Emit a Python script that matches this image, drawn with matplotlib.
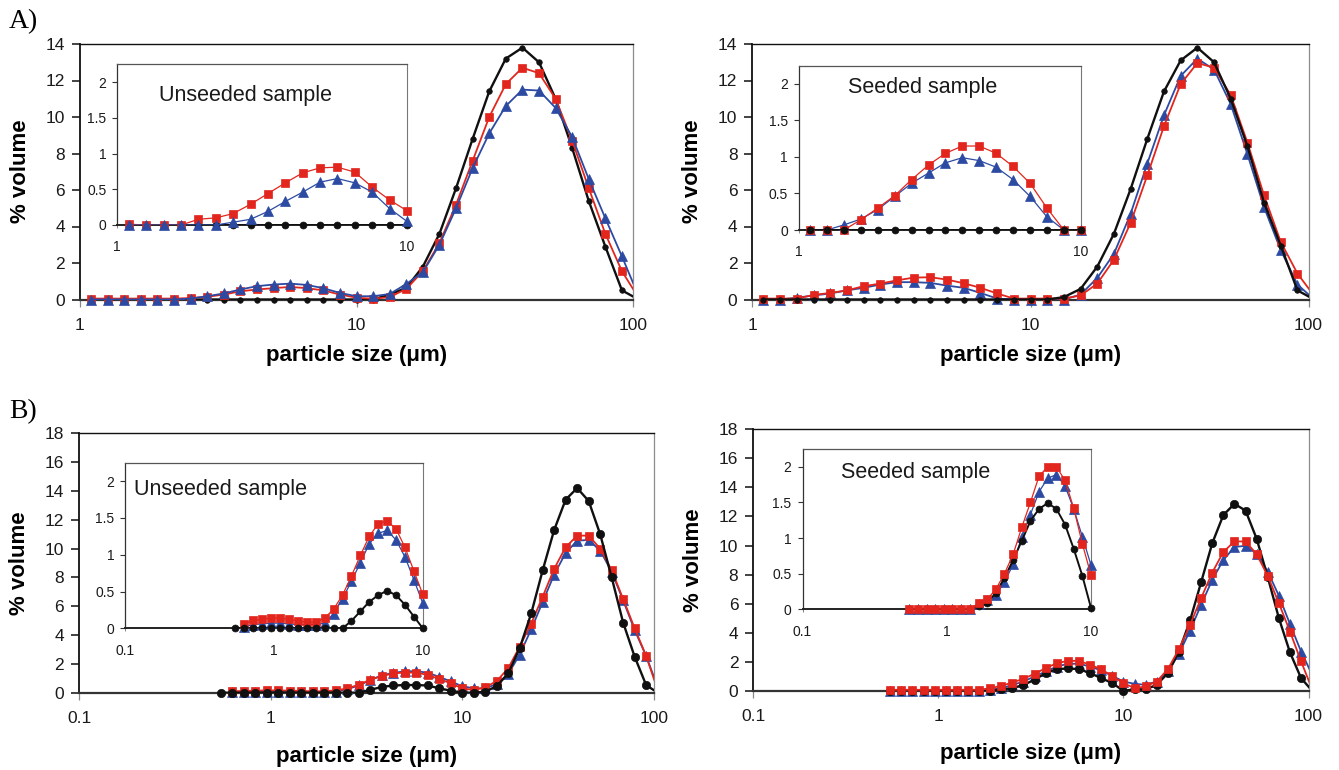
import matplotlib
matplotlib.use('Agg')
import matplotlib.pyplot as plt
from matplotlib.ticker import NullLocator

plt.rcParams['font.family'] = ['Liberation Sans', 'DejaVu Sans']

# particle size grid (um), log spaced like the instrument output
SIZES_A = [1.096, 1.259, 1.445, 1.660, 1.905, 2.188, 2.512, 2.884, 3.311, 3.802,
           4.365, 5.012, 5.754, 6.607, 7.586, 8.710, 10.00, 11.48, 13.18, 15.14,
           17.38, 19.95, 22.91, 26.30, 30.20, 34.67, 39.81, 45.71, 52.48, 60.26,
           69.18, 79.43, 91.20, 104.7]
SIZES_B = [0.550, 0.631, 0.724, 0.832, 0.955] + SIZES_A

# --- A) unseeded
al_black = [0, 0, 0, 0, 0, 0, 0, 0, 0, 0, 0, 0, 0, 0, 0, 0, 0, 0, 0.27, 0.64,
            1.8, 3.6, 6.1, 8.8, 11.4, 13.2, 13.8, 13.0, 11.0, 8.3, 5.4, 2.9, 0.5, 0]
al_red = [0.05, 0.05, 0.05, 0.05, 0.05, 0.05, 0.08, 0.15, 0.27, 0.45, 0.55, 0.62, 0.69,
          0.62, 0.5, 0.27, 0.1, 0.04, 0.13, 0.58, 1.55, 3.1, 5.2, 7.6, 10.0, 11.8,
          12.7, 12.4, 11.0, 8.7, 6.1, 3.6, 1.55, 0.1]
al_blue = [0, 0, 0, 0, 0, 0, 0.05, 0.18, 0.33, 0.55, 0.73, 0.82, 0.87, 0.8, 0.62, 0.36,
           0.18, 0.18, 0.3, 0.85, 1.5, 3.0, 5.0, 7.2, 9.1, 10.6, 11.5, 11.45, 10.5, 8.9,
           6.6, 4.45, 2.36, 0.2]
al_in_black = [0, 0, 0, 0, 0, 0, 0, 0, 0, 0, 0, 0, 0, 0, 0, 0, 0]
al_in_red = [0.01, 0, 0, 0, 0.08, 0.1, 0.16, 0.29, 0.44, 0.59, 0.73, 0.8, 0.81, 0.74,
             0.53, 0.35, 0.2]
al_in_blue = [0, 0, 0, 0, 0, 0, 0.04, 0.08, 0.19, 0.33, 0.46, 0.6, 0.65, 0.59, 0.46,
              0.23, 0.05]

# --- A) seeded
ar_black = [0, 0, 0, 0, 0, 0, 0, 0, 0, 0, 0, 0, 0, 0, 0, 0, 0, 0, 0.13, 0.58,
            1.8, 3.6, 6.05, 8.8, 11.4, 13.1, 13.8, 13.0, 11.0, 8.4, 5.3, 2.95, 0.5, 0]
ar_red = [0.05, 0.05, 0.05, 0.25, 0.36, 0.5, 0.73, 0.87, 1.05, 1.2, 1.22, 1.09, 0.89,
          0.64, 0.33, 0.05, 0.05, 0.05, 0.05, 0.22, 0.87, 2.18, 4.2, 6.8, 9.5, 11.8,
          12.96, 12.7, 11.2, 8.6, 5.7, 3.15, 1.42, 0.2]
ar_blue = [0, 0, 0.1, 0.22, 0.33, 0.5, 0.64, 0.82, 0.95, 0.95, 0.91, 0.76, 0.64, 0.36,
           0.05, 0, 0, 0, 0, 0.27, 1.18, 2.5, 4.7, 7.45, 10.1, 12.25, 13.2, 12.6, 10.7,
           7.96, 5.05, 2.7, 0.82, 0]
ar_in_black = [0, 0, 0, 0, 0, 0, 0, 0, 0, 0, 0, 0, 0, 0, 0, 0, 0]
ar_in_red = [0, 0, 0, 0.14, 0.3, 0.47, 0.69, 0.89, 1.05, 1.15, 1.15, 1.05, 0.87, 0.64,
             0.3, 0, 0]
ar_in_blue = [0, 0, 0.07, 0.15, 0.28, 0.46, 0.64, 0.78, 0.92, 0.99, 0.95, 0.86, 0.69,
              0.46, 0.18, 0, 0]

# --- B) unseeded (red / blue start at 0.631 um)
bl_black = [0, 0, 0, 0, 0, 0, 0, 0, 0, 0, 0, 0, 0, 0.2, 0.4, 0.5, 0.53, 0.53, 0.5, 0.3,
            0.14, 0, 0, 0.07, 0.46, 1.34, 3.1, 5.5, 8.5, 11.3, 13.4, 14.2, 13.3, 11.0,
            8.0, 4.86, 2.5, 0.53, 0]
bl_red = [0.1, 0.12, 0.14, 0.16, 0.16, 0.14, 0.12, 0.1, 0.1, 0.16, 0.3, 0.55, 0.9, 1.15,
          1.34, 1.4, 1.39, 1.23, 0.95, 0.65, 0.3, 0.19, 0.37, 0.81, 1.7, 3.2, 4.8, 6.67,
          8.6, 10.1, 10.9, 10.9, 10.0, 8.5, 6.5, 4.47, 2.55, 0.2]
bl_blue = [0.03, 0.06, 0.07, 0.08, 0.08, 0.07, 0.06, 0.05, 0.05, 0.08, 0.25, 0.5, 0.88,
           1.2, 1.38, 1.48, 1.5, 1.38, 1.1, 0.78, 0.45, 0.3, 0.3, 0.6, 1.3, 2.65, 4.4,
           6.3, 8.2, 9.7, 10.55, 10.6, 9.86, 8.4, 6.4, 4.35, 2.55, 0.4]
bl_in_black = [0, 0, 0, 0, 0, 0, 0, 0, 0, 0, 0, 0, 0, 0.1, 0.23, 0.36, 0.45, 0.51, 0.45,
               0.32, 0.16, 0]
bl_in_red = [0.06, 0.11, 0.12, 0.14, 0.14, 0.12, 0.1, 0.08, 0.08, 0.14, 0.26, 0.45, 0.71,
             0.99, 1.25, 1.42, 1.46, 1.35, 1.1, 0.78, 0.46]
bl_in_blue = [0.02, 0.05, 0.06, 0.07, 0.07, 0.06, 0.05, 0.05, 0.05, 0.07, 0.2, 0.4, 0.64,
              0.89, 1.15, 1.29, 1.33, 1.2, 0.97, 0.66, 0.34]

# --- B) seeded
br_black = [0, 0, 0, 0, 0, 0, 0, 0, 0, 0, 0.1, 0.18, 0.41, 0.76, 1.22, 1.49, 1.54, 1.49,
            1.22, 0.87, 0.53, 0, 0.1, 0.1, 0.41, 1.22, 2.7, 4.84, 7.48, 10.16, 12.1,
            12.87, 12.4, 10.46, 7.82, 5.0, 2.64, 0.87, 0]
br_red = [0.07, 0.07, 0.07, 0.07, 0.07, 0.07, 0.07, 0.07, 0.07, 0.18, 0.34, 0.57, 0.83,
          1.17, 1.56, 1.9, 2.06, 2.06, 1.79, 1.49, 0.99, 0.53, 0.18, 0.3, 0.64, 1.49,
          2.87, 4.54, 6.38, 8.14, 9.56, 10.28, 10.28, 9.4, 7.9, 6.03, 4.08, 2.02, 0.1]
br_blue = [0, 0, 0, 0, 0, 0, 0, 0, 0, 0.07, 0.18, 0.4, 0.64, 0.99, 1.33, 1.67, 1.86, 1.86,
           1.67, 1.4, 1.03, 0.64, 0.48, 0.41, 0.64, 1.33, 2.55, 4.15, 5.92, 7.64, 9.0,
           9.9, 9.98, 9.43, 8.2, 6.54, 4.59, 2.7, 1.1]
br_in_black = [0, 0, 0, 0, 0, 0, 0, 0, 0.04, 0.09, 0.23, 0.44, 0.69, 0.96, 1.24, 1.41,
               1.49, 1.41, 1.19, 0.85, 0.47, 0.02]
br_in_red = [0, 0, 0, 0, 0, 0, 0, 0, 0.09, 0.14, 0.28, 0.5, 0.77, 1.15, 1.5, 1.87, 2.0,
             2.0, 1.81, 1.42, 0.92, 0.48]
br_in_blue = [0, 0, 0, 0, 0, 0, 0, 0, 0.07, 0.13, 0.2, 0.38, 0.63, 1.02, 1.33, 1.65,
              1.84, 1.89, 1.73, 1.41, 1.02, 0.62]

RED = '#e2261e'
BLUE = '#2c4aa2'
BLACK = '#101010'
STYLE = {'black': (BLACK, 'o'), 'red': (RED, 's'), 'blue': (BLUE, '^')}
MS = {'A': {'black': 4.0, 'red': 5.6, 'blue': 6.6},
      'B': {'black': 6.0, 'red': 5.8, 'blue': 6.8},
      'in': {'black': 5.0, 'red': 6.0, 'blue': 7.0}}
LW = {'A': {'black': 1.7, 'red': 1.3, 'blue': 1.3},
      'B': {'black': 1.7, 'red': 1.3, 'blue': 1.3},
      'in': {'black': 1.4, 'red': 0.9, 'blue': 0.9}}

W, H = 1339, 770
fig = plt.figure(figsize=(W / 100, H / 100), dpi=100)


def frac(l, t, r, b):
    return [l / W, 1 - b / H, (r - l) / W, (b - t) / H]


def draw(ax, x, y, kind, size, xmax, z):
    color, marker = STYLE[kind]
    # line is clipped at the frame, markers are not (they sit on the zero line)
    ax.plot(x, y, color=color, lw=LW[size][kind], zorder=z)
    n = len([a for a in x if a <= xmax * 1.001])
    ax.plot(x[:n], y[:n], ls='none', marker=marker, ms=MS[size][kind], color=color,
            mec=color, mew=0.5, clip_on=False, zorder=z + 0.5)


def main_axes(rect, xmin, ymax):
    ax = fig.add_axes(frac(*rect))
    ax.set_xscale('log')
    ax.set_xlim(xmin, 100)
    ax.set_ylim(0, ymax)
    ticks = [t for t in (0.1, 1, 10, 100) if t >= xmin]
    ax.set_xticks(ticks)
    ax.set_xticklabels(['%g' % t for t in ticks])
    ax.xaxis.set_minor_locator(NullLocator())
    ax.set_yticks(range(0, ymax + 1, 2))
    ax.tick_params(labelsize=12.5, labelcolor='#1a1a1a', direction='out')
    ax.tick_params(axis='y', length=5.8, width=1.1, pad=5, color=BLACK)
    ax.tick_params(axis='x', length=5, width=0.9, pad=8, color='#888888')
    ax.spines['left'].set(lw=1.3, color=BLACK)
    ax.spines['bottom'].set(lw=1.6, color='#333333')
    ax.spines['top'].set(lw=1.0, color=BLACK)
    ax.spines['right'].set(lw=0.9, color='#8c8c8c')
    return ax


def inset_axes(rect, xmin):
    ax = fig.add_axes(frac(*rect))
    ax.set_facecolor('white')
    ax.set_xscale('log')
    ax.set_xlim(xmin, 10)
    ax.set_ylim(0, 2.25)
    ticks = [t for t in (0.1, 1, 10) if t >= xmin]
    ax.set_xticks(ticks)
    ax.set_xticklabels(['%g' % t for t in ticks])
    ax.xaxis.set_minor_locator(NullLocator())
    ax.set_yticks([0, 0.5, 1, 1.5, 2])
    ax.set_yticklabels(['0', '0.5', '1', '1.5', '2'])
    ax.tick_params(labelsize=10, labelcolor='#1a1a1a', direction='out')
    ax.tick_params(axis='y', length=3.4, width=0.8, pad=4.5, color='#333333')
    ax.tick_params(axis='x', length=2.5, width=0.7, pad=8.5, color='#888888')
    ax.spines['left'].set(lw=0.9, color='#333333')
    ax.spines['bottom'].set(lw=1.4, color='#222222')
    ax.spines['top'].set(lw=0.9, color='#555555')
    ax.spines['right'].set(lw=0.8, color='#777777')
    return ax


def label(x, y, s, **kw):
    fig.text(x / W, 1 - y / H, s, ha='center', va='center', **kw)


panels = [
    dict(rect=(80, 44, 633, 299.5), irect=(117.3, 64.3, 407, 225), xmin=1, ixmin=1, ymax=14,
         x=SIZES_A, ix=SIZES_A[:17], size='A',
         main={'black': al_black, 'red': al_red, 'blue': al_blue},
         ins={'black': al_in_black, 'red': al_in_red, 'blue': al_in_blue},
         order=['black', 'red', 'blue'], text='Unseeded sample', tpos=(245.5, 95),
         ylab=(21, 171.5), xlab=(356.5, 355)),
    dict(rect=(752.4, 44, 1308.6, 299.5), irect=(798.8, 65.7, 1080.8, 230), xmin=1, ixmin=1,
         ymax=14, x=SIZES_A, ix=SIZES_A[:17], size='A',
         main={'black': ar_black, 'red': ar_red, 'blue': ar_blue},
         ins={'black': ar_in_black, 'red': ar_in_red, 'blue': ar_in_blue},
         order=['blue', 'red', 'black'], text='Seeded sample', tpos=(923, 88),
         ylab=(692.5, 171.5), xlab=(1030.5, 355)),
    dict(rect=(79.2, 433.3, 653.8, 692.7), irect=(125.4, 462.7, 422.8, 628.3), xmin=0.1,
         ixmin=0.1, ymax=18, x=SIZES_B, ix=SIZES_B[:22], size='B',
         main={'black': bl_black, 'red': bl_red, 'blue': bl_blue},
         ins={'black': bl_in_black, 'red': bl_in_red, 'blue': bl_in_blue},
         order=['blue', 'red', 'black'], text='Unseeded sample', tpos=(221, 489),
         ylab=(19.3, 563), xlab=(366.5, 756.7)),
    dict(rect=(753.3, 429.3, 1308.5, 690.8), irect=(802.5, 449, 1091, 609.3), xmin=0.1,
         ixmin=0.1, ymax=18, x=SIZES_B, ix=SIZES_B[:22], size='B',
         main={'black': br_black, 'red': br_red, 'blue': br_blue},
         ins={'black': br_in_black, 'red': br_in_red, 'blue': br_in_blue},
         order=['blue', 'black', 'red'], text='Seeded sample', tpos=(915.5, 472.7),
         ylab=(693.5, 560), xlab=(1031, 753)),
]

for p in panels:
    ax = main_axes(p['rect'], p['xmin'], p['ymax'])
    for z, kind in enumerate(p['order']):
        y = p['main'][kind]
        draw(ax, p['x'][len(p['x']) - len(y):], y, kind, p['size'], 100, 3 + z)
    ia = inset_axes(p['irect'], p['ixmin'])
    for z, kind in enumerate(p['order']):
        y = p['ins'][kind]
        draw(ia, p['ix'][len(p['ix']) - len(y):], y, kind, 'in', 10, 3 + z)
    label(p['tpos'][0], p['tpos'][1], p['text'], fontsize=15.5, color='#1a1a1a')
    label(p['ylab'][0], p['ylab'][1], '% volume', rotation=90, fontsize=16,
          fontweight='bold')
    label(p['xlab'][0], p['xlab'][1], 'particle size (μm)', fontsize=16, fontweight='bold')

fig.text(9 / W, 1 - 22 / H, 'A)', ha='left', va='center', fontsize=20,
         family=['Liberation Serif', 'DejaVu Serif'])
fig.text(9 / W, 1 - 411.7 / H, 'B)', ha='left', va='center', fontsize=20,
         family=['Liberation Serif', 'DejaVu Serif'])

fig.savefig('out.png', dpi=100)
